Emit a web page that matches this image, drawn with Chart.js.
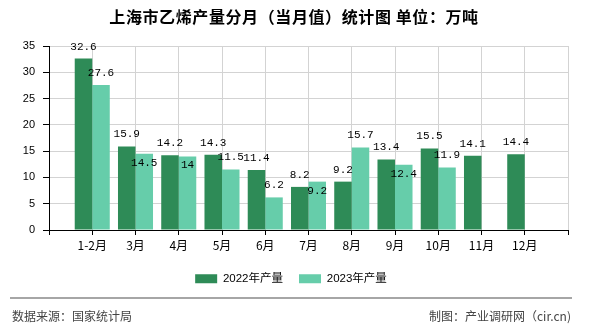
<!DOCTYPE html>
<html>
<head>
<meta charset="utf-8">
<script src="https://cdn.jsdelivr.net/npm/chart.js@4/dist/chart.umd.min.js"></script>
<style>
html,body{margin:0;padding:0;background:#fff;}
#wrap{width:590px;height:330px;position:relative;}
</style>
</head>
<body>
<div id="wrap"><canvas id="c" width="590" height="330"></canvas></div>
<script>
const categories = ['', '1-2月', '3月', '4月', '5月', '6月', '7月', '8月', '9月', '10月', '11月', '12月', ''];
const values2022 = [null, 32.6, 15.9, 14.2, 14.3, 11.4, 8.2, 9.2, 13.4, 15.5, 14.1, 14.4, null];
const values2023 = [null, 27.6, 14.5, 14, 11.5, 6.2, 9.2, 15.7, 12.4, 11.9, null, null, null];
const seriesNames = ['2022年产量', '2023年产量'];
const yTicks = [0, 5, 10, 15, 20, 25, 30, 35];
const titleText = '上海市乙烯产量分月（当月值）统计图 单位：万吨';
const sourceText = '数据来源：国家统计局';
const makerText = '制图：产业调研网（cir.cn)';

const labelPlugin = {
  id: 'barLabels',
  afterDatasetsDraw(chart) {
    const ctx = chart.ctx;
    ctx.save();
    ctx.font = '11px "Liberation Mono", "DejaVu Sans Mono", monospace';
    ctx.fillStyle = '#000';
    ctx.textAlign = 'center';
    ctx.textBaseline = 'middle';
    chart.data.datasets.forEach((ds, di) => {
      const meta = chart.getDatasetMeta(di);
      meta.data.forEach((el, i) => {
        const v = ds.data[i];
        if (v === null || v === undefined) return;
        let y = el.y - 12;
        if (di === 1) {
          const other = chart.data.datasets[0].data[i];
          if (other !== null && Math.abs(other - v) < 2) y = el.y + 9;
        }
        ctx.fillText(String(v), el.x, y);
      });
    });
    ctx.restore();
  }
};

const framePlugin = {
  id: 'frame',
  afterLayout(chart) {
    if (chart.legend) { chart.legend.left += 7; chart.legend.right += 7; }
  },
  afterDraw(chart) {
    const ctx = chart.ctx;
    ctx.save();
    ctx.fillStyle = '#000';
    ctx.textAlign = 'center';
    ctx.textBaseline = 'middle';
    ctx.font = 'bold 16px "Noto Sans CJK SC", sans-serif';
    try { ctx.letterSpacing = '0.6px'; } catch (e) {}
    ctx.fillText(titleText, 294, 17);
    try { ctx.letterSpacing = '0px'; } catch (e) {}
    ctx.strokeStyle = '#888';
    ctx.lineWidth = 1.5;
    ctx.beginPath();
    ctx.moveTo(10, 298);
    ctx.lineTo(572, 298);
    ctx.stroke();
    ctx.fillStyle = '#444';
    ctx.font = '12px "Noto Sans CJK SC", sans-serif';
    ctx.textAlign = 'left';
    ctx.fillText(sourceText, 12, 316);
    ctx.textAlign = 'right';
    ctx.fillText(makerText, 571, 316);
    ctx.restore();
  }
};

new Chart(document.getElementById('c'), {
  type: 'bar',
  data: {
    labels: categories,
    datasets: [
      { label: seriesNames[0], data: values2022, backgroundColor: '#2E8B57', borderWidth: 0 },
      { label: seriesNames[1], data: values2023, backgroundColor: '#66CDAA', borderWidth: 0 }
    ]
  },
  options: {
    responsive: false,
    animation: false,
    devicePixelRatio: 1,
    layout: { padding: { top: 46, right: 22, bottom: 35.5, left: 0 } },
    datasets: { bar: { barPercentage: 1, categoryPercentage: 0.81 } },
    plugins: {
      title: { display: false },
      tooltip: { enabled: false },
      legend: {
        position: 'bottom',
        labels: {
          boxWidth: 22, boxHeight: 9, padding: 16,
          color: '#000',
          font: { size: 11.5, family: '"Liberation Sans", "Noto Sans CJK SC", sans-serif' }
        }
      }
    },
    scales: {
      x: {
        offset: false,
        grid: { color: '#d3d3d3', tickColor: '#000', tickLength: 5, offset: false, drawOnChartArea: true },
        border: { color: '#000', width: 1 },
        ticks: { color: '#000', padding: 3, autoSkip: false, maxRotation: 0,
          font: { size: 12, family: '"Noto Sans CJK SC", sans-serif' } },
        afterFit(scale) { scale.height = 27; }
      },
      y: {
        min: 0, max: 35,
        afterBuildTicks(scale) { scale.ticks = yTicks.map(v => ({ value: v })); },
        grid: { color: '#d3d3d3', tickColor: '#000', tickLength: 6 },
        border: { color: '#000', width: 1 },
        ticks: { color: '#000', padding: 8,
          font: { size: 11, family: '"Liberation Sans", Arial, sans-serif' } },
        afterFit(scale) { scale.width = 49; }
      }
    }
  },
  plugins: [labelPlugin, framePlugin]
});
</script>
</body>
</html>
